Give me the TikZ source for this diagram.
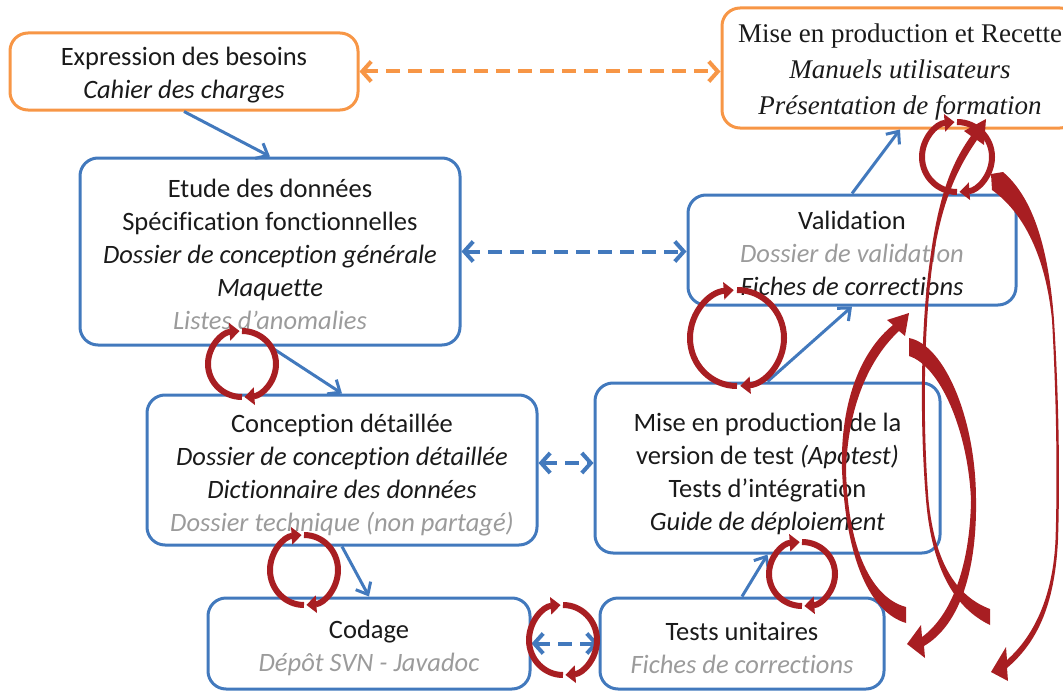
\documentclass[tikz,border=0pt]{standalone}
\usepackage{fontspec}
\setmainfont{Carlito}[RawFeature={-liga;-calt;-clig;-dlig}]
\newfontfamily\timesf{Liberation Serif}[Ligatures=NoCommon]
\usetikzlibrary{arrows.meta,calc}
\definecolor{orng}{HTML}{F79646}
\definecolor{blu}{HTML}{4279BD}
\definecolor{rd}{HTML}{A81E22}
\definecolor{gtext}{HTML}{9B9B9B}
\definecolor{btext}{HTML}{1A1A1A}
\newcommand\gr[1]{\textcolor{gtext}{\textit{#1}}}
\newcommand\cycarrow[4]{%
  \draw[cyc] ([shift={(#1,#2)}]90:#3 and #4) arc[start angle=90,end angle=266,x radius=#3,y radius=#4];
  \draw[cyc] ([shift={(#1,#2)}]270:#3 and #4) arc[start angle=270,end angle=446,x radius=#3,y radius=#4];
}
\begin{document}
\begin{tikzpicture}[x=1pt,y=-1pt,
  box/.style={draw=blu, line width=3pt, rounded corners=18pt, inner sep=0pt},
  obox/.style={box, draw=orng},
  txt/.style={inner sep=0pt, align=center, text=btext, font=\fontsize{26.5}{33}\selectfont},
  ttxt/.style={txt, font=\timesf\fontsize{27}{36}\selectfont},
  barrow/.style={draw=blu, line width=3pt, -{Straight Barb[length=10pt,width=17pt]}},
  darrow/.style={draw=blu, line width=4pt, dash pattern=on 14pt off 8pt,
    {Straight Barb[length=9pt,width=20pt]}-{Straight Barb[length=9pt,width=20pt]}},
  cyc/.style={draw=rd, line width=6pt, -{Triangle[length=10pt,width=17pt]}},
  bigred/.style={fill=rd}
]
\useasboundingbox (0,0) rectangle (1063,693);

% boxes
\node[obox, minimum width=348pt, minimum height=77pt] (exp) at (184,71.5) {};
\node[obox, minimum width=356pt, minimum height=120pt] (rec) at (900,68) {};
\node[box, minimum width=380pt, minimum height=187pt] (etude) at (270,251.5) {};
\node[box, minimum width=328pt, minimum height=110pt] (valid) at (852,250) {};
\node[box, minimum width=390pt, minimum height=150pt] (concep) at (342,470) {};
\node[box, minimum width=345pt, minimum height=170pt] (test) at (767.5,468) {};
\node[box, minimum width=322pt, minimum height=91pt] (codage) at (369,643.5) {};
\node[box, minimum width=284pt, minimum height=91pt] (tu) at (742,643.5) {};

% texts
\node[txt] (expT) at ([yshift=-4pt]exp.center)
  {Expression des besoins\\ \textit{Cahier des charges}};
\node[ttxt] (recT) at ([yshift=-4pt]rec.center)
  {Mise en production et Recette\\ \textit{Manuels utilisateurs}\\ \textit{Présentation de formation}};
\node[txt] (etudeT) at ([yshift=-3pt]etude.center)
  {Etude des données\\ Spécification fonctionnelles\\ \textit{Dossier de conception générale}\\ \textit{Maquette}\\ \gr{Listes d’anomalies}};
\node[txt] (validT) at ([yshift=-3pt]valid.center)
  {Validation\\ \gr{Dossier de validation}\\ \textit{Fiches de corrections}};
\node[txt] (concepT) at ([yshift=-5pt]concep.center)
  {Conception détaillée\\ \textit{Dossier de conception détaillée}\\ \textit{Dictionnaire des données}\\ \gr{Dossier technique (non partagé)}};
\node[txt] (testT) at ([yshift=-6pt]test.center)
  {Mise en production de la\\ version de test \textit{(Apotest)}\\ Tests d’intégration\\ \textit{Guide de déploiement}};
\node[txt] (codageT) at ([yshift=-4pt]codage.center)
  {Codage\\ \gr{Dépôt SVN - Javadoc}};
\node[txt] (tuT) at ([yshift=-4pt]tu.center)
  {Tests unitaires\\ \gr{Fiches de corrections}};

% connectors
\draw[darrow, draw=orng] (exp.east) -- (exp.east -| rec.west);
\draw[darrow] (etude.east) -- (etude.east -| valid.west);
\draw[darrow] ([yshift=7pt]concep.east) -- ([yshift=7pt]concep.east -| test.west);
\draw[darrow] (codage.east) -- (codage.east -| tu.west);
\draw[barrow] (exp.south) -- (etude.north);
\draw[barrow] (etude.south) -- (concep.north);
\draw[barrow] (concep.south) -- (codage.north);
\draw[barrow] (tu.north) -- (test.south);
\draw[barrow] (test.north) -- (valid.south);
\draw[barrow] (valid.north) -- (rec.south);

% cyclic arrows
\cycarrow{242}{364}{34}{33}
\cycarrow{304}{570}{34}{35}
\cycarrow{563}{640}{34}{35}
\cycarrow{802}{574}{33}{32}
\cycarrow{737}{338}{47}{48}
\cycarrow{957}{157}{35}{35}

% big curved arrows
% A
\fill[bigred] (906,623) .. controls (870,612) and (846,560) .. (842,470)
  .. controls (840,400) and (862,350) .. (893,325) -- (887,320) -- (909,313) -- (905,336) -- (899,331)
  .. controls (870,358) and (848,405) .. (846,470)
  .. controls (848,550) and (872,598) .. (906,607) -- cycle;
% B
\fill[bigred] (909,338) .. controls (945,345) and (976,420) .. (976,500)
  .. controls (977,570) and (960,625) .. (924,646) -- (925,658) -- (907,644) -- (921,625) -- (922,637)
  .. controls (952,615) and (970,565) .. (971,500)
  .. controls (968,430) and (940,366) .. (909,356) -- cycle;
% C
\fill[bigred] (1003,172) .. controls (1030,195) and (1048,240) .. (1054,320)
  .. controls (1059,400) and (1060,480) .. (1058,540)
  .. controls (1055,600) and (1040,640) .. (1007,668) -- (1008,681) -- (991,672) -- (1006,647) -- (1007,660)
  .. controls (1035,635) and (1053,595) .. (1055.5,540)
  .. controls (1057.5,480) and (1056.5,400) .. (1052,320)
  .. controls (1045,250) and (1020,210) .. (992,190) -- (991,174) -- cycle;
% D
\fill[bigred] (990,625) .. controls (955,608) and (932,570) .. (926,500)
  .. controls (920,430) and (920,330) .. (930,260)
  .. controls (938,200) and (950,165) .. (971,136) -- (964,131) -- (986,119) -- (984,145) -- (977,140)
  .. controls (956,170) and (941,205) .. (933,260)
  .. controls (923,330) and (923,430) .. (928.5,500)
  .. controls (935,565) and (958,597) .. (990,609) -- cycle;
\end{tikzpicture}
\end{document}
